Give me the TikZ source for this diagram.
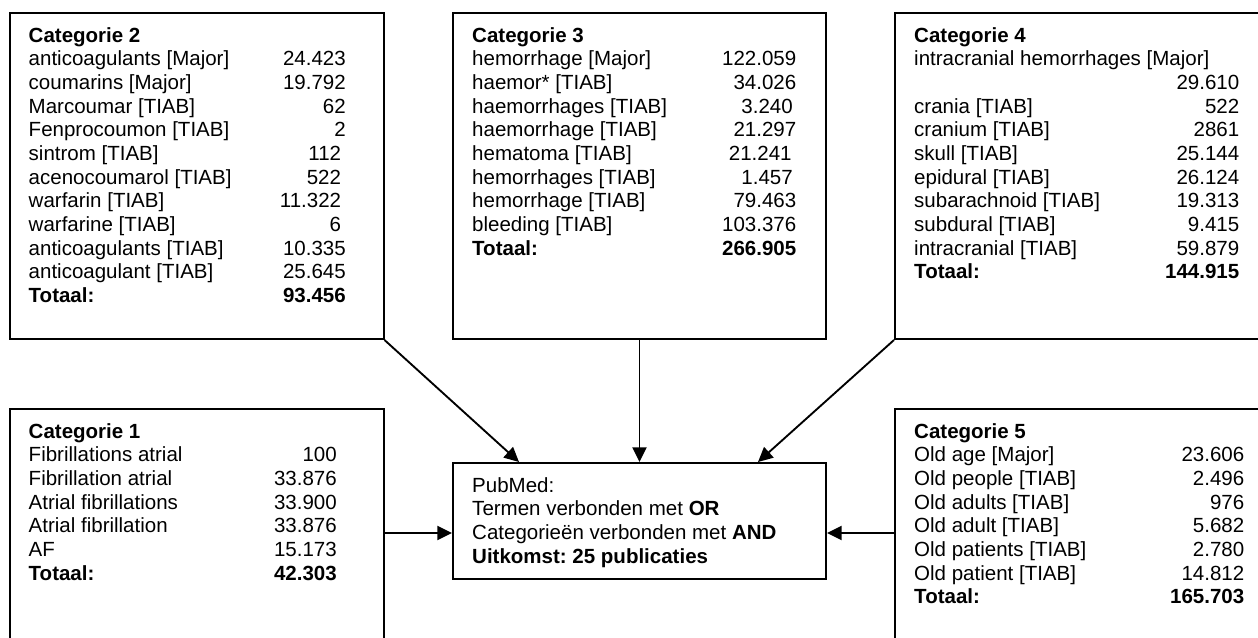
\documentclass[tikz,border=0pt]{standalone}
\usepackage{fontspec}
\setmainfont{Liberation Sans}
\frenchspacing
\usetikzlibrary{arrows.meta,calc}

\begin{document}
\begin{tikzpicture}[x=0.03cm,y=-0.03cm,
    kader/.style={draw,line width=1.7pt,minimum width=11.19cm,inner sep=0pt},
    inhoud/.style={anchor=north west,inner sep=0pt,font=\fontsize{17.5}{20.2}\selectfont},
    pijl/.style={-{Triangle[length=12.5pt,width=12pt]},line width=1.6pt}]
    \useasboundingbox (0,0) rectangle (1258,637);
    \clip (0,0) rectangle (1258,637);

    \node[kader,minimum height=9.78cm] (cat2) at (197,176) {};
    \node[kader,minimum height=9.78cm] (cat3) at (639.5,176) {};
    \node[kader,minimum height=9.78cm] (cat4) at (1081.5,176) {};
    \node[kader,minimum height=9.78cm] (cat1) at (197,572) {};
    \node[kader,minimum height=9.78cm] (cat5) at (1081.5,572) {};
    \node[kader,minimum height=3.48cm] (pubmed) at (639.5,521) {};

    \node[inhoud] (cat2txt) at ($(cat2.north west)+(19,13.5)$) {%
    \begin{tabular*}{9.51cm}{@{}l@{\extracolsep{\fill}}r@{}}
    \textbf{Categorie 2} & \\
    anticoagulants [Major] & 24.423\\
    coumarins [Major] & 19.792\\
    Marcoumar [TIAB] & 62\\
    Fenprocoumon [TIAB] & 2\\
    sintrom [TIAB] & 112\hspace*{4pt}\\
    acenocoumarol [TIAB] & 522\hspace*{4pt}\\
    warfarin [TIAB] & 11.322\hspace*{4pt}\\
    warfarine [TIAB] & 6\hspace*{4pt}\\
    anticoagulants [TIAB] & 10.335\\
    anticoagulant [TIAB] & 25.645\\
    \textbf{Totaal:} & \textbf{93.456}
    \end{tabular*}};

    \node[inhoud] (cat3txt) at ($(cat3.north west)+(20,13.5)$) {%
    \begin{tabular*}{9.72cm}{@{}l@{\extracolsep{\fill}}r@{}}
    \textbf{Categorie 3} & \\
    hemorrhage [Major] & 122.059\\
    haemor* [TIAB] & 34.026\\
    haemorrhages [TIAB] & 3.240\hspace*{3pt}\\
    haemorrhage [TIAB] & 21.297\\
    hematoma [TIAB] & 21.241\hspace*{4pt}\\
    hemorrhages [TIAB] & 1.457\hspace*{3pt}\\
    hemorrhage [TIAB] & 79.463\\
    bleeding [TIAB] & 103.376\\
    \textbf{Totaal:} & \textbf{266.905}
    \end{tabular*}};

    \node[inhoud] (cat4txt) at ($(cat4.north west)+(20,13.5)$) {%
    \begin{tabular*}{9.75cm}{@{}l@{\extracolsep{\fill}}r@{}}
    \textbf{Categorie 4} & \\
    \multicolumn{2}{@{}l@{}}{intracranial hemorrhages [Major]}\\
    & 29.610\\
    crania [TIAB] & 522\\
    cranium [TIAB] & 2861\\
    skull [TIAB] & 25.144\\
    epidural [TIAB] & 26.124\\
    subarachnoid [TIAB] & 19.313\\
    subdural [TIAB] & 9.415\\
    intracranial [TIAB] & 59.879\\
    \textbf{Totaal:} & \textbf{144.915}
    \end{tabular*}};

    \node[inhoud] (cat1txt) at ($(cat1.north west)+(19,13.5)$) {%
    \begin{tabular*}{9.24cm}{@{}l@{\extracolsep{\fill}}r@{}}
    \textbf{Categorie 1} & \\
    Fibrillations atrial & 100\\
    Fibrillation atrial & 33.876\\
    Atrial fibrillations & 33.900\\
    Atrial fibrillation & 33.876\\
    AF & 15.173\\
    \textbf{Totaal:} & \textbf{42.303}
    \end{tabular*}};

    \node[inhoud] (cat5txt) at ($(cat5.north west)+(20,13.5)$) {%
    \begin{tabular*}{9.9cm}{@{}l@{\extracolsep{\fill}}r@{}}
    \textbf{Categorie 5} & \\
    Old age [Major] & 23.606\\
    Old people [TIAB] & 2.496\\
    Old adults [TIAB] & 976\\
    Old adult [TIAB] & 5.682\\
    Old patients [TIAB] & 2.780\\
    Old patient [TIAB] & 14.812\\
    \textbf{Totaal:} & \textbf{165.703}
    \end{tabular*}};

    \node[inhoud] (pubmedtxt) at ($(pubmed.north west)+(20,13.5)$) {%
    \begin{tabular}{@{}l@{}}
    PubMed:\\
    Termen verbonden met \textbf{OR}\\
    Categorieën verbonden met \textbf{AND}\\
    \textbf{Uitkomst: 25 publicaties}
    \end{tabular}};

    \coordinate (inL) at ($(pubmed.west)+(0,12)$);
    \coordinate (inR) at ($(pubmed.east)+(0,12)$);
    \draw[pijl] (cat2.south east) -- ($(pubmed.north west)+(67,0)$);
    \draw[pijl] (cat3.south) -- (pubmed.north);
    \draw[pijl] (cat4.south west) -- ($(pubmed.north east)+(-69,0)$);
    \draw[pijl] (cat1.east |- inL) -- (inL);
    \draw[pijl] (cat5.west |- inR) -- (inR);
\end{tikzpicture}
\end{document}
